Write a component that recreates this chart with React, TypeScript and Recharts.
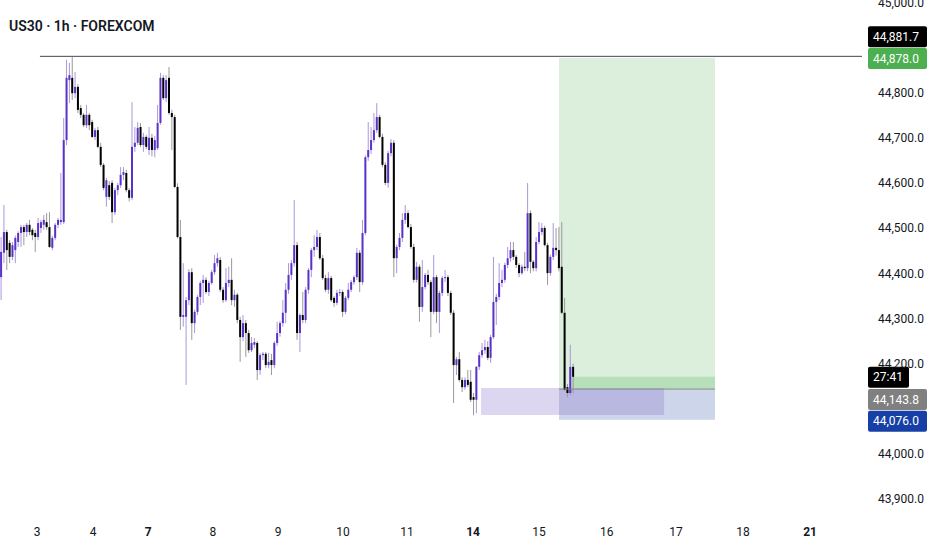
import React from 'react';
import { ComposedChart, Bar, XAxis, YAxis, ReferenceArea, ReferenceLine } from 'recharts';

// US30 1h candles: [open, high, low, close]
const ohlc: [number, number, number, number][] = [
  [44392, 44481, 44341, 44448], [44446, 44552, 44423, 44492], [44492, 44497, 44408, 44452], [44468, 44474, 44423, 44437],
  [44437, 44470, 44430, 44463], [44452, 44484, 44423, 44479], [44470, 44494, 44459, 44490], [44490, 44508, 44459, 44503],
  [44503, 44508, 44463, 44492], [44492, 44512, 44481, 44508], [44508, 44519, 44485, 44492], [44497, 44501, 44474, 44485],
  [44490, 44497, 44448, 44481], [44481, 44523, 44474, 44512], [44501, 44519, 44490, 44514], [44508, 44530, 44497, 44519],
  [44514, 44534, 44497, 44503], [44503, 44536, 44457, 44459], [44457, 44484, 44452, 44479], [44479, 44512, 44474, 44508],
  [44508, 44523, 44501, 44519], [44514, 44623, 44508, 44519], [44514, 44745, 44510, 44696], [44696, 44874, 44685, 44834],
  [44829, 44867, 44778, 44840], [44834, 44880, 44785, 44800], [44800, 44847, 44789, 44814], [44814, 44820, 44756, 44763],
  [44767, 44774, 44745, 44752], [44752, 44756, 44725, 44729], [44729, 44774, 44723, 44752], [44752, 44756, 44718, 44729],
  [44736, 44741, 44701, 44703], [44703, 44723, 44696, 44718], [44718, 44725, 44678, 44681], [44681, 44690, 44636, 44641],
  [44641, 44645, 44585, 44590], [44570, 44612, 44548, 44607], [44596, 44605, 44563, 44570], [44601, 44607, 44512, 44536],
  [44536, 44590, 44530, 44585], [44585, 44601, 44574, 44596], [44596, 44636, 44590, 44619], [44619, 44636, 44607, 44625],
  [44623, 44630, 44580, 44585], [44585, 44590, 44560, 44568], [44568, 44780, 44563, 44681], [44681, 44725, 44670, 44690],
  [44690, 44736, 44685, 44723], [44725, 44734, 44681, 44685], [44685, 44712, 44670, 44703], [44703, 44707, 44676, 44681],
  [44674, 44725, 44663, 44701], [44701, 44710, 44660, 44674], [44674, 44705, 44658, 44696], [44678, 44774, 44674, 44734],
  [44734, 44845, 44730, 44834], [44834, 44840, 44785, 44789], [44789, 44840, 44780, 44829], [44834, 44858, 44752, 44756],
  [44756, 44763, 44674, 44747], [44747, 44752, 44590, 44592], [44592, 44600, 44478, 44481], [44481, 44519, 44275, 44304],
  [44304, 44423, 44282, 44308], [44304, 44348, 44153, 44341], [44341, 44410, 44330, 44403], [44403, 44412, 44253, 44290],
  [44290, 44320, 44268, 44315], [44315, 44352, 44308, 44348], [44348, 44384, 44330, 44379], [44379, 44397, 44335, 44386],
  [44386, 44392, 44355, 44359], [44359, 44384, 44350, 44379], [44379, 44408, 44375, 44403], [44403, 44441, 44397, 44423],
  [44423, 44446, 44415, 44434], [44430, 44437, 44359, 44364], [44364, 44370, 44335, 44341], [44341, 44412, 44337, 44379],
  [44379, 44415, 44370, 44386], [44386, 44434, 44330, 44341], [44341, 44364, 44326, 44353], [44353, 44357, 44290, 44297],
  [44297, 44304, 44204, 44259], [44259, 44308, 44250, 44290], [44290, 44297, 44215, 44268], [44268, 44275, 44224, 44230],
  [44230, 44259, 44226, 44246], [44242, 44257, 44235, 44248], [44246, 44250, 44164, 44186], [44186, 44224, 44175, 44219],
  [44219, 44226, 44208, 44222], [44222, 44226, 44190, 44197], [44197, 44224, 44190, 44204], [44208, 44222, 44175, 44197],
  [44197, 44250, 44190, 44246], [44246, 44293, 44240, 44268], [44268, 44295, 44260, 44290], [44290, 44341, 44282, 44313],
  [44313, 44379, 44290, 44364], [44364, 44423, 44355, 44397], [44397, 44430, 44386, 44423], [44423, 44563, 44415, 44463],
  [44463, 44470, 44253, 44268], [44268, 44312, 44226, 44308], [44308, 44359, 44290, 44297], [44297, 44370, 44290, 44364],
  [44364, 44412, 44355, 44408], [44408, 44457, 44392, 44452], [44452, 44485, 44437, 44459], [44459, 44497, 44452, 44481],
  [44481, 44490, 44430, 44434], [44434, 44441, 44386, 44390], [44390, 44397, 44359, 44364], [44364, 44403, 44355, 44390],
  [44390, 44395, 44337, 44341], [44346, 44350, 44326, 44335], [44335, 44364, 44330, 44357], [44357, 44366, 44350, 44359],
  [44359, 44364, 44304, 44315], [44315, 44350, 44310, 44346], [44346, 44379, 44341, 44364], [44364, 44386, 44359, 44381],
  [44381, 44396, 44375, 44392], [44392, 44457, 44386, 44446], [44446, 44452, 44359, 44381], [44381, 44519, 44375, 44490],
  [44490, 44662, 44485, 44658], [44658, 44736, 44650, 44674], [44674, 44725, 44665, 44696], [44696, 44756, 44690, 44718],
  [44718, 44778, 44712, 44747], [44747, 44752, 44700, 44703], [44703, 44710, 44636, 44641], [44641, 44647, 44596, 44601],
  [44601, 44672, 44590, 44667], [44667, 44698, 44660, 44690], [44690, 44696, 44392, 44434], [44434, 44464, 44401, 44459],
  [44459, 44490, 44452, 44479], [44479, 44534, 44470, 44519], [44519, 44552, 44510, 44534], [44534, 44540, 44500, 44503],
  [44503, 44510, 44455, 44459], [44459, 44466, 44380, 44386], [44386, 44426, 44380, 44415], [44415, 44420, 44293, 44326],
  [44326, 44430, 44315, 44370], [44370, 44401, 44365, 44397], [44397, 44408, 44375, 44381], [44381, 44386, 44259, 44315],
  [44315, 44441, 44310, 44392], [44392, 44397, 44290, 44315], [44315, 44362, 44268, 44357], [44357, 44395, 44350, 44390],
  [44390, 44408, 44381, 44392], [44392, 44397, 44350, 44357], [44357, 44362, 44308, 44313], [44313, 44319, 44113, 44197],
  [44197, 44215, 44175, 44210], [44210, 44226, 44160, 44164], [44164, 44170, 44137, 44148], [44148, 44170, 44142, 44164],
  [44164, 44186, 44148, 44153], [44160, 44186, 44115, 44120], [44126, 44135, 44086, 44120], [44120, 44195, 44090, 44193],
  [44193, 44226, 44186, 44219], [44219, 44246, 44213, 44230], [44230, 44253, 44222, 44237], [44237, 44250, 44208, 44213],
  [44213, 44264, 44202, 44259], [44259, 44437, 44255, 44337], [44337, 44355, 44286, 44348], [44348, 44423, 44341, 44379],
  [44379, 44408, 44370, 44386], [44386, 44424, 44380, 44419], [44419, 44459, 44412, 44434], [44434, 44470, 44426, 44452],
  [44452, 44470, 44430, 44437], [44437, 44441, 44412, 44419], [44419, 44423, 44392, 44401], [44401, 44420, 44397, 44415],
  [44415, 44448, 44405, 44412], [44412, 44601, 44405, 44534], [44534, 44540, 44401, 44426], [44426, 44430, 44405, 44412],
  [44412, 44481, 44405, 44470], [44470, 44514, 44465, 44492], [44492, 44512, 44485, 44501], [44501, 44506, 44460, 44463],
  [44463, 44468, 44375, 44401], [44401, 44442, 44395, 44437], [44437, 44512, 44430, 44457], [44457, 44501, 44440, 44452],
  [44452, 44503, 44405, 44412], [44415, 44514, 44310, 44313], [44313, 44346, 44140, 44142], [44148, 44155, 44126, 44135],
  [44135, 44242, 44130, 44193], [44193, 44200, 44135, 44171],
];

// day separators, in bar-index units
const dayTicks = [12.5, 32.2, 51.5, 74.3, 97.2, 120.0, 142.5, 165.7, 188.9, 212.7, 237.0, 260.5, 284.1];
const dayLabels = ['3', '4', '7', '8', '9', '10', '11', '14', '15', '16', '17', '18', '21'];
const weekStarts = ['7', '14', '21'];

// 44,100 and 44,900 sit under the price tags in the screenshot
const priceTicks = [43900, 44000, 44200, 44300, 44400, 44500, 44600, 44700, 44800, 45000];

// drawing levels
const resistance = 44881.7;
const targetPrice = 44878.0;
const entryPrice = 44143.8;
const stopPrice = 44076.0;
const lastPrice = 44171.0;
const zoneTop = 44146;
const zoneBottom = 44086;

// drawing anchors, in bar-index units
const rayStart = 13.5;
const zoneStart = 168.5;
const zoneEnd = 232.8;
const positionStart = 195.9;
const progressStart = 200.5;
const positionEnd = 250.7;

const xMin = -0.53;
const xMax = 302.35;
const yMin = 43864.5;
const yMax = 45006.65;

const FONT = 'Roboto, sans-serif';

const chartData = ohlc.map(([open, high, low, close], i) => ({ i, open, high, low, close }));

const Candle = (props: any) => {
  const { x, y, width, height, payload } = props;
  if (!payload || height == null) return null;
  const { open, high, low, close } = payload;
  const up = close >= open;
  const ppu = height / Math.max(high - low, 1);
  const cx = x + width / 2;
  const yOpen = y + (high - open) * ppu;
  const yClose = y + (high - close) * ppu;
  const top = Math.min(yOpen, yClose);
  const bodyH = Math.max(1, Math.abs(yOpen - yClose));
  return (
    <g>
      <rect x={cx - 0.5} y={y} width={1} height={Math.max(height, 1)} fill={up ? '#a898dc' : '#9a9a9a'} />
      <rect x={cx - 1} y={top} width={2} height={bodyH} fill={up ? '#5b32c8' : '#000000'} />
    </g>
  );
};

const DayTick = ({ x, y, payload }: any) => {
  const label = dayLabels[dayTicks.indexOf(payload.value)] ?? '';
  return (
    <text
      x={x}
      y={y + 19}
      textAnchor="middle"
      fontSize={12}
      fontFamily={FONT}
      fontWeight={weekStarts.includes(label) ? 700 : 400}
      fill="#131722"
    >
      {label}
    </text>
  );
};

const PriceTick = ({ x, y, payload }: any) => (
  <text x={x + 14} y={y + 4} textAnchor="start" fontSize={12} fontFamily={FONT} fill="#131722">
    {payload.value.toLocaleString('en-US', { minimumFractionDigits: 1, maximumFractionDigits: 1 })}
  </text>
);

const PriceTag = ({ viewBox, text, bg, dy = 0, w = 59 }: any) => {
  if (!viewBox) return null;
  const left = viewBox.x + viewBox.width + 6;
  const cy = viewBox.y + dy;
  return (
    <g>
      <rect x={left} y={cy - 10} width={w} height={21} rx={2} fill={bg} />
      <text x={left + 5} y={cy + 4.5} fill="#ffffff" fontSize={12} fontFamily={FONT}>
        {text}
      </text>
    </g>
  );
};

export default function App() {
  return (
    <div style={{ position: 'absolute', left: 0, top: 0, width: 932, height: 550, background: '#ffffff' }}>
      <ComposedChart width={932} height={550} data={chartData} margin={{ top: 0, right: 0, bottom: 0, left: 0 }}>
        <XAxis
          dataKey="i"
          type="number"
          domain={[xMin, xMax]}
          allowDataOverflow
          ticks={dayTicks}
          interval={0}
          height={35}
          axisLine={false}
          tickLine={false}
          tickSize={0}
          tick={<DayTick />}
        />
        <YAxis
          orientation="right"
          width={70}
          domain={[yMin, yMax]}
          allowDataOverflow
          ticks={priceTicks}
          interval={0}
          axisLine={false}
          tickLine={false}
          tickSize={0}
          tick={<PriceTick />}
        />

        {/* long position tool */}
        <ReferenceArea x1={positionStart} x2={positionEnd} y1={entryPrice} y2={targetPrice} fill="#4caf50" fillOpacity={0.2} stroke="none" />
        <ReferenceArea x1={progressStart} x2={positionEnd} y1={entryPrice} y2={lastPrice} fill="#4caf50" fillOpacity={0.25} stroke="none" />
        <ReferenceArea x1={positionStart} x2={positionEnd} y1={stopPrice} y2={entryPrice} fill="#3757ab" fillOpacity={0.25} stroke="none" />
        {/* demand zone */}
        <ReferenceArea x1={zoneStart} x2={zoneEnd} y1={zoneBottom} y2={zoneTop} fill="#8a76cd" fillOpacity={0.3} stroke="none" />

        <Bar dataKey={(d: any) => [d.low, d.high]} shape={<Candle />} barSize={2} isAnimationActive={false} />

        <ReferenceLine
          segment={[{ x: rayStart, y: resistance }, { x: xMax, y: resistance }]}
          stroke="#434651"
          strokeWidth={1}
        />
        <ReferenceLine
          segment={[{ x: positionStart, y: entryPrice }, { x: positionEnd, y: entryPrice }]}
          stroke="#8a8a8a"
          strokeWidth={1}
        />

        <ReferenceLine y={resistance} stroke="none" label={<PriceTag text="44,881.7" bg="#000000" dy={-20} />} />
        <ReferenceLine y={targetPrice} stroke="none" label={<PriceTag text="44,878.0" bg="#4caf50" />} />
        <ReferenceLine y={lastPrice} stroke="none" label={<PriceTag text="27:41" bg="#000000" w={41} />} />
        <ReferenceLine y={entryPrice} stroke="none" label={<PriceTag text="44,143.8" bg="#808080" dy={10} />} />
        <ReferenceLine y={stopPrice} stroke="none" label={<PriceTag text="44,076.0" bg="#1740a6" dy={1} />} />
      </ComposedChart>
      <div
        style={{
          position: 'absolute',
          left: 9,
          top: 16,
          fontFamily: FONT,
          fontSize: 14,
          fontWeight: 600,
          color: '#131722',
          lineHeight: '20px',
          whiteSpace: 'nowrap',
        }}
      >
        US30 · 1h · FOREXCOM
      </div>
    </div>
  );
}
